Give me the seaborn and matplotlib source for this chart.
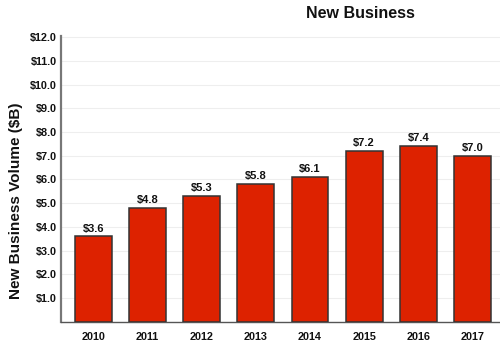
import matplotlib
matplotlib.use("Agg")
import matplotlib.pyplot as plt
import seaborn as sns
import pandas as pd

years = ["2010", "2011", "2012", "2013", "2014", "2015", "2016", "2017"]
volume = [3.6, 4.8, 5.3, 5.8, 6.1, 7.2, 7.4, 7.0]
value_labels = ["$3.6", "$4.8", "$5.3", "$5.8", "$6.1", "$7.2", "$7.4", "$7.0"]
y_ticks = [1, 2, 3, 4, 5, 6, 7, 8, 9, 10, 11, 12]
y_tick_labels = ["$1.0", "$2.0", "$3.0", "$4.0", "$5.0", "$6.0",
                 "$7.0", "$8.0", "$9.0", "$10.0", "$11.0", "$12.0"]

df = pd.DataFrame({"year": years, "volume": volume})

sns.set_theme(style="white")
plt.rcParams["font.family"] = ["Liberation Sans", "DejaVu Sans"]
plt.rcParams["font.weight"] = "bold"

fig = plt.figure(figsize=(5.0, 3.48), dpi=100)
ax = fig.add_axes([0.122, 0.075, 0.878, 0.822])

sns.barplot(data=df, x="year", y="volume", color="#DD2200", saturation=1,
            width=0.68, edgecolor="#333333", linewidth=1.1, ax=ax, zorder=3)

for i, (v, lab) in enumerate(zip(volume, value_labels)):
    ax.text(i, v + 0.12, lab, ha="center", va="bottom", fontsize=8,
            fontweight="bold", color="#111111", zorder=4)

ax.set_xlim(-0.6, 7.51)
ax.set_ylim(0, 12.05)
ax.set_yticks(y_ticks)
ax.set_yticklabels(y_tick_labels)
ax.yaxis.grid(True, color="#eeeeee", linewidth=0.8, zorder=0)
ax.tick_params(axis="y", labelsize=7.8, length=0, pad=3)
ax.tick_params(axis="x", labelsize=7.8, length=0, pad=7)
for t in ax.get_xticklabels() + ax.get_yticklabels():
    t.set_fontweight("bold")
    t.set_color("#111111")

ax.set_xlabel("")
ax.set_ylabel("")
fig.text(0.032, 0.422, "New Business Volume ($B)", rotation=90,
         ha="center", va="center", fontsize=11, fontweight="bold",
         color="#111111")

for side in ["top", "right"]:
    ax.spines[side].set_visible(False)
ax.spines["left"].set_color("#777777")
ax.spines["left"].set_linewidth(1.6)
ax.spines["bottom"].set_color("#555555")
ax.spines["bottom"].set_linewidth(1.0)

fig.text(0.72, 0.962, "New Business", ha="center", va="center",
         fontsize=11.5, fontweight="bold", color="#111111")

fig.savefig("out.png", dpi=100, facecolor="white")
